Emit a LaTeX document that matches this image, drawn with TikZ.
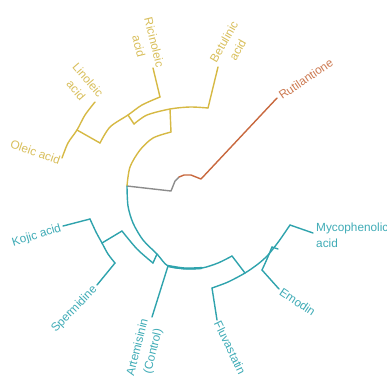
\documentclass[tikz,border=0pt]{standalone}
\usepackage{fontspec}
\setmainfont{Liberation Sans}
\definecolor{ylw}{HTML}{D6B944}
\definecolor{ylwt}{HTML}{D8BE5A}
\definecolor{tl}{HTML}{2FA3AD}
\definecolor{tlt}{HTML}{3FABB6}
\definecolor{org}{HTML}{C8683E}
\definecolor{orgt}{HTML}{CC7A52}
\definecolor{gry}{HTML}{8C8C8C}
\begin{document}
\begin{tikzpicture}[x=1pt,y=-1pt,
  br/.style={line width=1.4pt, line cap=round, line join=round},
  lab/.style={font=\fontsize{11.8}{16}\selectfont, inner sep=1pt, align=center}]
\useasboundingbox (0,0) rectangle (387,376);
% ---------- root ----------
\coordinate (N1) at (127,186);
\coordinate (g1) at (171,191);
\coordinate (g2) at (175,181);
\coordinate (g3) at (179,177);
\coordinate (o1) at (184,175);
\coordinate (o2) at (191,175);
\coordinate (o3) at (201,179);
\coordinate (rutE) at (277,98);
\draw[br,gry] (N1) -- (g1) -- (g2) -- (g3);
\draw[br,org] (g3) -- (o1) -- (o2) -- (o3) -- (rutE);
% ---------- yellow clade ----------
\coordinate (Y0) at (171,132);
\coordinate (Y0t) at (170,109);
\coordinate (Y1) at (134,124);
\coordinate (Y1t) at (128,115);
\coordinate (Y2) at (100,143);
\coordinate (Y2t) at (77,130);
\coordinate (betB) at (208,108);
\coordinate (betE) at (218,67);
\coordinate (ricB) at (160,97);
\coordinate (ricE) at (153,68);
\coordinate (oleE) at (62,158);
\coordinate (linE) at (95,102);
\draw[br,ylw] plot[smooth] coordinates {(N1) (130,167) (140,150) (153,138) (Y0)};
\draw[br,ylw] (Y0) -- (Y0t);
\draw[br,ylw] plot[smooth] coordinates {(Y1) (147,115) (Y0t) (190,107) (betB)};
\draw[br,ylw] (betB) -- (betE);
\draw[br,ylw] (Y1) -- (Y1t);
\draw[br,ylw] plot[smooth] coordinates {(Y2) (110,127) (Y1t) (142,105) (ricB)};
\draw[br,ylw] (ricB) -- (ricE);
\draw[br,ylw] (Y2) -- (Y2t);
\draw[br,ylw] plot[smooth] coordinates {(oleE) (68,143) (Y2t) (85,115) (linE)};
% ---------- teal clade ----------
\coordinate (Cb) at (157,254);
\coordinate (Ct) at (153,263);
\coordinate (art) at (168,266);
\coordinate (TA) at (232,256);
\coordinate (TAt) at (245,273);
\coordinate (D) at (122,231);
\coordinate (Dt) at (102,243);
\coordinate (kojB) at (90,219);
\coordinate (kojE) at (63,226);
\coordinate (spB) at (115,263);
\coordinate (spE) at (97,285);
\coordinate (artE) at (152,317);
\coordinate (fluB) at (212,288);
\coordinate (fluE) at (217,320);
\coordinate (mycB) at (290,225);
\coordinate (mycE) at (313,233);
\coordinate (Ba) at (278,249);
\coordinate (Bb) at (272,247);
\coordinate (emB) at (262,270);
\coordinate (emE) at (279,289);
\draw[br,tl] plot[smooth] coordinates {(N1) (128,206) (133,223) (143,240) (Cb) (art) (185,268.5) (202,268) (218,263) (TA)};
\draw[tl,line width=2.3pt] plot[smooth] coordinates {(art) (185,268.5) (202,268)};
\draw[br,tl] (Cb) -- (Ct);
\draw[br,tl] plot[smooth] coordinates {(D) (137,249) (Ct)};
\draw[br,tl] (D) -- (Dt);
\draw[br,tl] plot[smooth] coordinates {(kojB) (96,232) (Dt) (108,254) (spB)};
\draw[br,tl] (kojB) -- (kojE);
\draw[br,tl] (spB) -- (spE);
\draw[br,tl] (art) -- (artE);
\draw[br,tl] (TA) -- (TAt);
\draw[br,tl] plot[smooth] coordinates {(fluB) (228,282) (TAt) (258,264) (268,255) (279,241) (mycB)};
\draw[br,tl] (fluB) -- (fluE);
\draw[br,tl] (mycB) -- (mycE);
\draw[br,tl] (Ba) -- (Bb);
\draw[br,tl] plot[smooth] coordinates {(Bb) (267,259) (emB)};
\draw[br,tl] (emB) -- (emE);
% ---------- labels ----------
\node[lab, ylwt, anchor=east, rotate=-19] (oleic) at (61,161) {Oleic acid};
\node[lab, ylwt, anchor=east, rotate=-49] (linoleic) at (96,101) {Linoleic\\acid};
\node[lab, ylwt, anchor=east, rotate=-76] (ricin) at (153,70) {Ricinoleic\\acid};
\node[lab, ylwt, anchor=west, rotate=60] (betul) at (219,66) {Betulinic\\acid};
\node[lab, orgt, anchor=west, rotate=34] (rut) at (279,97) {Rutilantione};
\node[lab, tlt, anchor=west, align=left] (myco) at (315,235) {Mycophenolic\\acid};
\node[lab, tlt, anchor=west, rotate=-34] (emodin) at (280,290) {Emodin};
\node[lab, tlt, anchor=west, rotate=-64] (fluv) at (217,321) {Fluvastatin};
\node[lab, tlt, anchor=east, rotate=76] (artem) at (153,320) {Artemisinin\\(Control)};
\node[lab, tlt, anchor=east, rotate=46] (sperm) at (96,287) {Spermidine};
\node[lab, tlt, anchor=east, rotate=17] (kojic) at (62,228) {Kojic acid};
\end{tikzpicture}
\end{document}
